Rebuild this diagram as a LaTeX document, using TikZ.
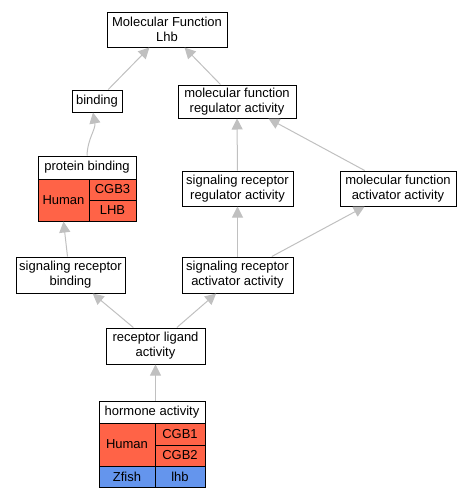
\documentclass[tikz,border=0pt]{standalone}
\usepackage{fontspec}
\setmainfont{Liberation Sans}
\usetikzlibrary{arrows.meta}
\definecolor{human}{HTML}{FF6347}
\definecolor{zfish}{HTML}{6495ED}
\definecolor{edgegray}{HTML}{C0C0C0}
\tikzset{
  box/.style={draw=black, line width=1pt, fill=white, rectangle, inner sep=0pt, align=center,
    font=\fontsize{13}{15}\selectfont},
  hum/.style={box, fill=human},
  zf/.style={box, fill=zfish},
  edge/.style={draw=edgegray, line width=1pt, -{Triangle[length=11pt,width=11pt]}}
}
\begin{document}
\begin{tikzpicture}[x=1pt,y=-1pt]
\useasboundingbox (0,0) rectangle (471,499);
% plain nodes
\node[box, minimum width=120, minimum height=35] (mf) at (167,29.5) {Molecular Function\\Lhb};
\node[box, minimum width=50, minimum height=22] (binding) at (97,101) {binding};
\node[box, minimum width=118, minimum height=33] (mfr) at (237,101.5) {molecular function\\regulator activity};
\node[box, minimum width=111, minimum height=35] (srr) at (237.5,188.5) {signaling receptor\\regulator activity};
\node[box, minimum width=116, minimum height=35] (mfa) at (398,188.5) {molecular function\\activator activity};
\node[box, minimum width=111, minimum height=36] (sra) at (237.5,275) {signaling receptor\\activator activity};
\node[box, minimum width=109, minimum height=36] (srb) at (70.5,275) {signaling receptor\\binding};
\node[box, minimum width=99, minimum height=36] (rla) at (155.5,346) {receptor ligand\\activity};
% protein binding table
\node[box, minimum width=98, minimum height=23] (pbh) at (87,167.5) {protein binding};
\node[hum, minimum width=51, minimum height=42] (pbhum) at (63.5,200) {Human};
\node[hum, minimum width=47, minimum height=21] (pbc3) at (112.5,189.5) {CGB3};
\node[hum, minimum width=47, minimum height=21] (pblhb) at (112.5,210.5) {LHB};
% hormone activity table
\node[box, minimum width=106, minimum height=22] (hah) at (152,412) {hormone activity};
\node[hum, minimum width=56, minimum height=43] (hahum) at (127,444.5) {Human};
\node[hum, minimum width=50, minimum height=22] (cgb1) at (180,434) {CGB1};
\node[hum, minimum width=50, minimum height=21] (cgb2) at (180,455.5) {CGB2};
\node[zf, minimum width=56, minimum height=21] (zfish) at (127,476.5) {Zfish};
\node[zf, minimum width=50, minimum height=21] (lhb) at (180,476.5) {lhb};
% edges
\draw[edge] (binding) -- (mf);
\draw[edge] (mfr) -- (mf);
\draw[edge] (pbh.north) to[out=88,in=-80] ([xshift=-4pt]binding.south);
\draw[edge] (srr) -- (mfr);
\draw[edge] (mfa) -- (mfr);
\draw[edge] (sra) -- (srr);
\draw[edge] (sra) -- (mfa);
\draw[edge] ([xshift=-3pt]srb.north) -- (pbhum.south);
\draw[edge] (rla) -- (srb);
\draw[edge] (rla) -- (sra);
\draw[edge] (rla.south |- hah.north) -- (rla.south);
\end{tikzpicture}
\end{document}
